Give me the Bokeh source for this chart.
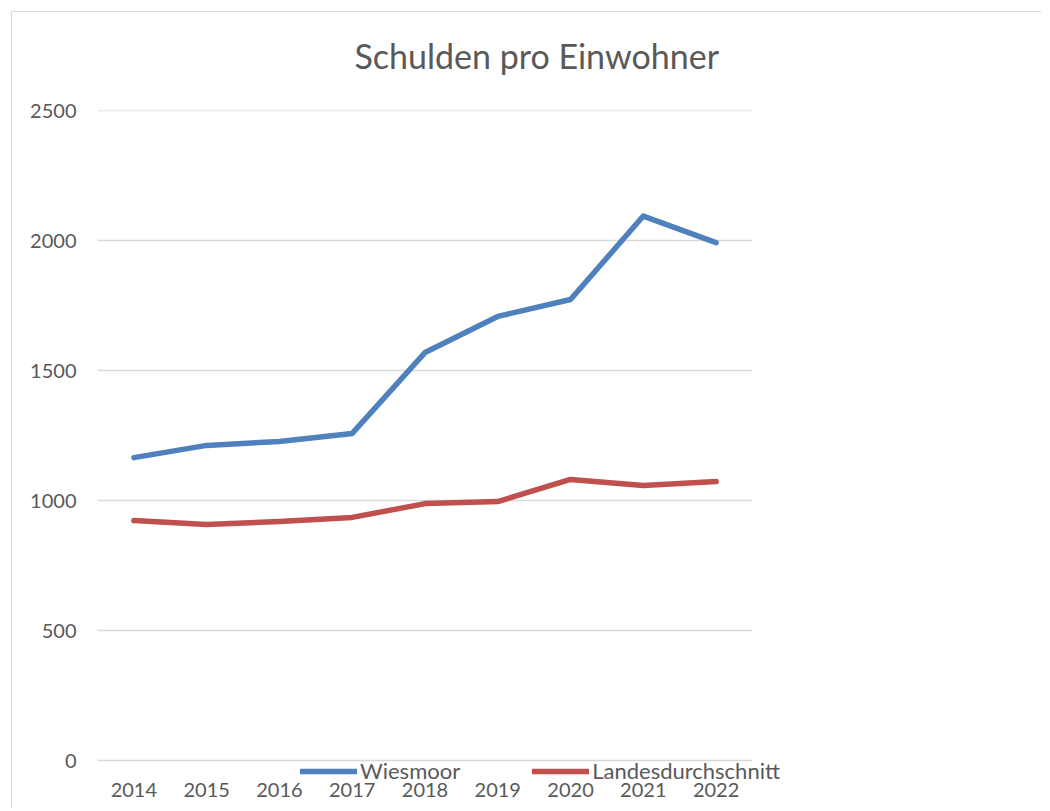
from bokeh.plotting import figure
from bokeh.models import Range1d, FixedTicker, Legend, LegendItem, Title
from bokeh.embed import file_html
from bokeh.resources import INLINE

years = ["2014", "2015", "2016", "2017", "2018", "2019", "2020", "2021", "2022"]
wiesmoor = [1165, 1212, 1227, 1258, 1569, 1708, 1773, 2094, 1992]
landesdurchschnitt = [923, 908, 919, 935, 988, 996, 1081, 1058, 1073]
y_ticks = [0, 500, 1000, 1500, 2000, 2500]
title_text = "Schulden pro Einwohner"
series_names = ["Wiesmoor", "Landesdurchschnitt"]

FONT = "Lato"
TXT = "#595959"

# category slots 0..n-1, each one unit wide
xpos = list(range(len(years)))
n = len(years)

# frame extends below 0 and to the right of the last category so the legend
# (which overlaps the category labels in the original) is not clipped
p = figure(
    width=1030, height=797,
    x_range=Range1d(-0.5, n - 0.5 + 0.66),
    y_range=Range1d(-92.3, 2500),
    output_backend="svg", toolbar_location=None,
    min_border_left=85, min_border_right=242,
    min_border_top=98, min_border_bottom=25,
)
p.styles = {"margin-left": "11px", "margin-top": "11px",
            "border-top": "1px solid #d9d9d9", "border-left": "1px solid #d9d9d9"}
p.outline_line_color = None
p.background_fill_color = "white"
p.border_fill_color = "white"

# spacer between frame and title
p.add_layout(Title(text=" ", text_font_size="1px", standoff=32), "above")

p.title.text = title_text
p.title.align = "left"
p.title.offset = 257
p.title.text_font = FONT
p.title.text_font_size = "34px"
p.title.text_font_style = "normal"
p.title.text_color = TXT
p.title.standoff = 0

# horizontal grid lines spanning only the category area
grid_x0 = [-0.5] * len(y_ticks)
grid_x1 = [n - 0.5] * len(y_ticks)
p.segment(x0=grid_x0, x1=grid_x1, y0=y_ticks, y1=y_ticks,
          line_color="#d9d9d9", line_width=1.5)

r1 = p.line(xpos, wiesmoor, line_color="#4F81BD", line_width=5.5,
            line_join="round", line_cap="round")
r2 = p.line(xpos, landesdurchschnitt, line_color="#C0504D", line_width=5.5,
            line_join="round", line_cap="round")

p.xaxis.ticker = FixedTicker(ticks=xpos)
p.xaxis.major_label_overrides = {i: y for i, y in zip(xpos, years)}
p.yaxis.ticker = FixedTicker(ticks=y_ticks)
p.ygrid.grid_line_color = None
p.xgrid.grid_line_color = None

for ax in (p.xaxis[0], p.yaxis[0]):
    ax.axis_line_color = None
    ax.major_tick_line_color = None
    ax.minor_tick_line_color = None
    ax.major_label_text_font = FONT
    ax.major_label_text_font_size = "20px"
    ax.major_label_text_color = TXT
p.yaxis.major_label_standoff = 15
p.xaxis.major_label_standoff = -8

legend = Legend(
    items=[LegendItem(label=series_names[0], renderers=[r1]),
           LegendItem(label=series_names[1], renderers=[r2])],
    location=(203, 0), orientation="horizontal",
    glyph_width=57, glyph_height=22, label_height=22, label_standoff=3, spacing=72,
    padding=0, margin=0,
    label_text_font=FONT, label_text_font_size="22px", label_text_color=TXT,
    background_fill_alpha=0, border_line_color=None,
)
p.add_layout(legend)

open("out.html", "w").write(file_html(p, INLINE))
